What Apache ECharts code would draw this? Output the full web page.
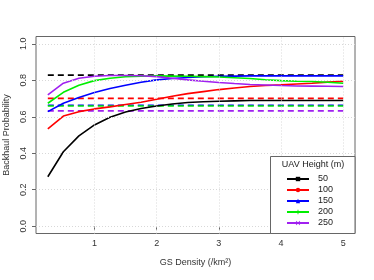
<!DOCTYPE html>
<html>
<head>
<meta charset="utf-8">
<script src="https://cdn.jsdelivr.net/npm/echarts@6/dist/echarts.min.js"></script>
<style>html,body{margin:0;padding:0;background:#fff;}#c{width:374px;height:280px;}</style>
</head>
<body>
<div id="c"></div>
<script>
var density = [0.25,0.5,0.75,1,1.25,1.5,1.75,2,2.25,2.5,2.75,3,3.25,3.5,3.75,4,4.25,4.5,4.75,5];
var h50  = [0.271,0.408,0.495,0.555,0.597,0.626,0.645,0.659,0.670,0.678,0.682,0.685,0.687,0.689,0.689,0.689,0.689,0.689,0.689,0.689];
var h100 = [0.533,0.604,0.628,0.643,0.654,0.667,0.680,0.696,0.712,0.727,0.738,0.749,0.758,0.766,0.771,0.775,0.780,0.784,0.790,0.795];
var h150 = [0.628,0.674,0.705,0.733,0.755,0.773,0.789,0.802,0.810,0.815,0.819,0.822,0.823,0.824,0.824,0.824,0.824,0.824,0.824,0.824];
var h200 = [0.674,0.734,0.773,0.798,0.811,0.819,0.822,0.824,0.823,0.822,0.820,0.818,0.814,0.810,0.803,0.798,0.795,0.793,0.789,0.784];
var h250 = [0.720,0.784,0.811,0.822,0.826,0.826,0.825,0.820,0.811,0.802,0.795,0.788,0.782,0.777,0.774,0.771,0.769,0.768,0.767,0.766];
var dashedLevels = [0.828,0.701,0.663,0.659,0.632];
var heights = ['50','100','150','200','250'];
var colors = ['#000000','#ff0000','#0000ff','#00ee00','#a020f0'];
var xTicks = [1,2,3,4,5];
var yTicks = [0,0.2,0.4,0.6,0.8,1.0];
var xTitle = 'GS Density (/km\u00b2)';
var yTitle = 'Backhaul Probability';
var legendTitle = 'UAV Height (m)';

var plusPath = 'path://M4,0L6,0L6,4L10,4L10,6L6,6L6,10L4,10L4,6L0,6L0,4L4,4Z';
var xPath = 'path://M1,0L5,3.6L9,0L10,1L6.4,5L10,9L9,10L5,6.4L1,10L0,9L3.6,5L0,1Z';
var symbols = ['rect','circle','triangle',plusPath,xPath];
var sets = [h50,h100,h150,h200,h250];
var font = 'Liberation Sans, Arial, sans-serif';

var series = [];
var gridLines = [];
xTicks.forEach(function(v){ gridLines.push({xAxis:v}); });
yTicks.forEach(function(v){ gridLines.push({yAxis:v}); });
series.push({
  type:'line', data:[], silent:true, z:1,
  markLine:{silent:true, symbol:['none','none'], label:{show:false},
    lineStyle:{color:'#d8d8d8', type:[1,2], width:1}, data:gridLines, animation:false}
});
sets.forEach(function(vals,i){
  series.push({
    name: heights[i], type:'line', z:3,
    data: density.map(function(x,j){return [x, vals[j]];}),
    showSymbol:false, symbol:symbols[i], symbolSize:5,
    itemStyle:{color:colors[i]},
    lineStyle:{color:colors[i], width:1.6},
    animation:false
  });
});
dashedLevels.forEach(function(v,i){
  series.push({
    type:'line', z:2,
    data:[[density[0],v],[density[density.length-1],v]],
    showSymbol:false, symbol:'none',
    lineStyle:{color:colors[i], width:1.6, type:[6,4]},
    animation:false
  });
});

var chart = echarts.init(document.getElementById('c'), null, {renderer:'canvas'});
chart.setOption({
  animation:false,
  backgroundColor:'#fff',
  grid:{left:36, right:19, top:36.5, bottom:46.5, show:true, borderColor:'#666', borderWidth:1,
    backgroundColor:'transparent', containLabel:false, outerBoundsMode:'none'},
  xAxis:{
    type:'value', min:0.06, max:5.19,
    name:xTitle, nameLocation:'middle', nameGap:25,
    nameTextStyle:{fontFamily:font, fontSize:9, color:'#333'},
    axisLine:{show:false},
    axisTick:{show:true, length:4, lineStyle:{color:'#666'}, customValues:xTicks},
    axisLabel:{fontFamily:font, fontSize:9, color:'#333', margin:6, customValues:xTicks},
    splitLine:{show:false}
  },
  yAxis:{
    type:'value', min:-0.04, max:1.04,
    name:yTitle, nameLocation:'middle', nameGap:25, nameRotate:90,
    nameTextStyle:{fontFamily:font, fontSize:9, color:'#333'},
    axisLine:{show:false},
    axisTick:{show:true, length:4, lineStyle:{color:'#666'}, customValues:yTicks},
    axisLabel:{fontFamily:font, fontSize:9, color:'#333', margin:8, rotate:90, customValues:yTicks,
      formatter:function(v){return v.toFixed(1);}},
    splitLine:{show:false}
  },
  legend:{
    orient:'vertical', left:286, top:174.5, z:200, padding:0,
    itemWidth:22, itemHeight:5.5, itemGap:2,
    data:heights,
    textStyle:{fontFamily:font, fontSize:9, color:'#222', padding:[0,0,0,4]},
    selectedMode:false
  },
  graphic:[
    {type:'rect', z:100, shape:{x:270.5, y:156.5, width:84.5, height:77}, style:{fill:'#fff', stroke:'#666', lineWidth:1}},
    {type:'text', z:101, x:313, y:165, style:{text:legendTitle, fontFamily:font, fontSize:9, fill:'#222', align:'center', verticalAlign:'middle'}}
  ],
  series:series
});
</script>
</body>
</html>
